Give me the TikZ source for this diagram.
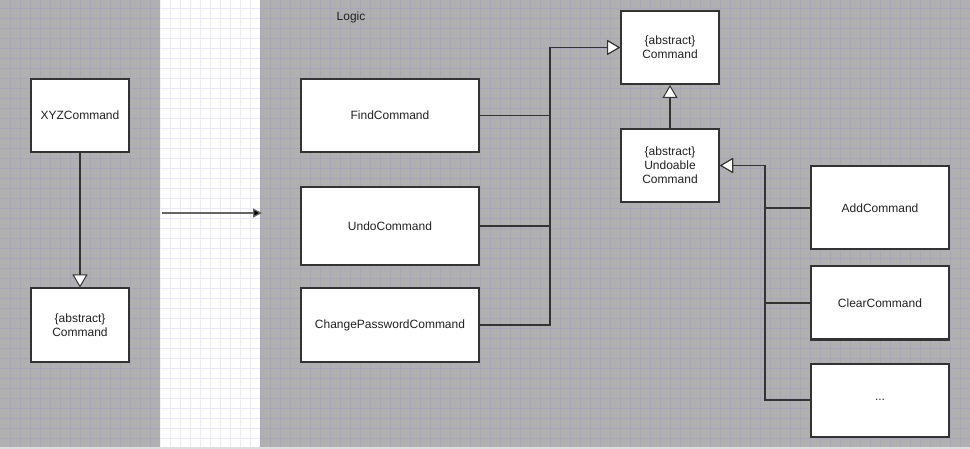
\documentclass[tikz,border=0pt]{standalone}
\usepackage{fontspec}
\setmainfont{Liberation Sans}
\usetikzlibrary{arrows.meta}

\definecolor{panel}{RGB}{176,176,176}
\definecolor{panelgrid}{RGB}{168,166,184}
\definecolor{stripgrid}{RGB}{234,232,250}
\definecolor{boxline}{RGB}{51,51,51}
\definecolor{textcol}{RGB}{34,34,34}
\definecolor{edgeband}{RGB}{222,222,222}

\tikzset{
  classbox/.style={draw=boxline, line width=2pt, fill=white, inner sep=0pt,
    align=center, text=textcol, font=\fontsize{12}{14}\selectfont},
  inherit/.style={draw=boxline, line width=1.5pt,
    -{Triangle[fill=white, length=13pt, width=15pt, line width=1pt]}},
  flow/.style={draw=black!60, line width=1.3pt,
    -{Triangle[length=9pt, width=9pt, fill=black]}},
}

\begin{document}
\begin{tikzpicture}[x=1pt, y=-1pt]
\useasboundingbox (0,0) rectangle (970,449);

% panels
\fill[panel] (0,0) rectangle (160,447);
\fill[white] (160,0) rectangle (260,447);
\fill[panel] (260,0) rectangle (970,447);
\fill[edgeband] (0,447) rectangle (970,449);

% grid on the grey panels
\begin{scope}
  \clip (0,0) rectangle (160,447) (260,0) rectangle (970,447);
  \foreach \gx in {10,20,...,960} \draw[panelgrid, line width=0.9pt] (\gx,0) -- (\gx,447);
  \foreach \gy in {8,18,...,438} \draw[panelgrid, line width=0.9pt] (0,\gy) -- (970,\gy);
\end{scope}
% grid on the white strip
\begin{scope}
  \clip (160,0) rectangle (260,447);
  \foreach \gx in {170,180,...,250} \draw[stripgrid, line width=0.9pt] (\gx,0) -- (\gx,447);
  \foreach \gy in {8,18,...,438} \draw[stripgrid, line width=0.9pt] (160,\gy) -- (260,\gy);
\end{scope}

% title
\node[text=textcol, font=\fontsize{12}{14}\selectfont] (logic) at (351,17.5) {Logic};

% left panel classes
\node[classbox, minimum width=98pt, minimum height=73pt] (xyz) at (80,115.5) {XYZCommand};
\node[classbox, minimum width=98pt, minimum height=73pt] (absL) at (80,325) {\{abstract\}\\Command};

% right panel classes
\node[classbox, minimum width=178pt, minimum height=73pt] (find) at (390,115.5) {FindCommand};
\node[classbox, minimum width=178pt, minimum height=78pt] (undo) at (390,226) {UndoCommand};
\node[classbox, minimum width=178pt, minimum height=73pt] (change) at (390,325) {ChangePasswordCommand};
\node[classbox, minimum width=98pt, minimum height=73pt] (absR) at (670,47.5) {\{abstract\}\\Command};
\node[classbox, minimum width=98pt, minimum height=73pt] (undoable) at (670,165.5) {\{abstract\}\\Undoable\\Command};
\node[classbox, minimum width=138pt, minimum height=83pt] (add) at (880,208) {AddCommand};
\node[classbox, minimum width=138pt, minimum height=73pt] (clear) at (880,303) {ClearCommand};
\node[classbox, minimum width=138pt, minimum height=73pt] (more) at (880,400) {...};

% arrow across the white strip
\coordinate (flowA) at (162,213);
\coordinate (flowB) at (262,213);
\draw[flow] (flowA) -- (flowB);

% generalisations
\draw[inherit] (xyz.south) -- (absL.north);
\draw[inherit] (find.east) -- (550,115.5) |- (absR.west);
\draw[inherit] (undo.east) -- (550,226) |- (absR.west);
\draw[inherit] (change.east) -- (550,325) |- (absR.west);
\draw[inherit] (undoable.north) -- (absR.south);
\draw[inherit] (add.west) -- (765,208) |- (undoable.east);
\draw[inherit] (clear.west) -- (765,303) |- (undoable.east);
\draw[inherit] (more.west) -- (765,400) |- (undoable.east);
\end{tikzpicture}
\end{document}
